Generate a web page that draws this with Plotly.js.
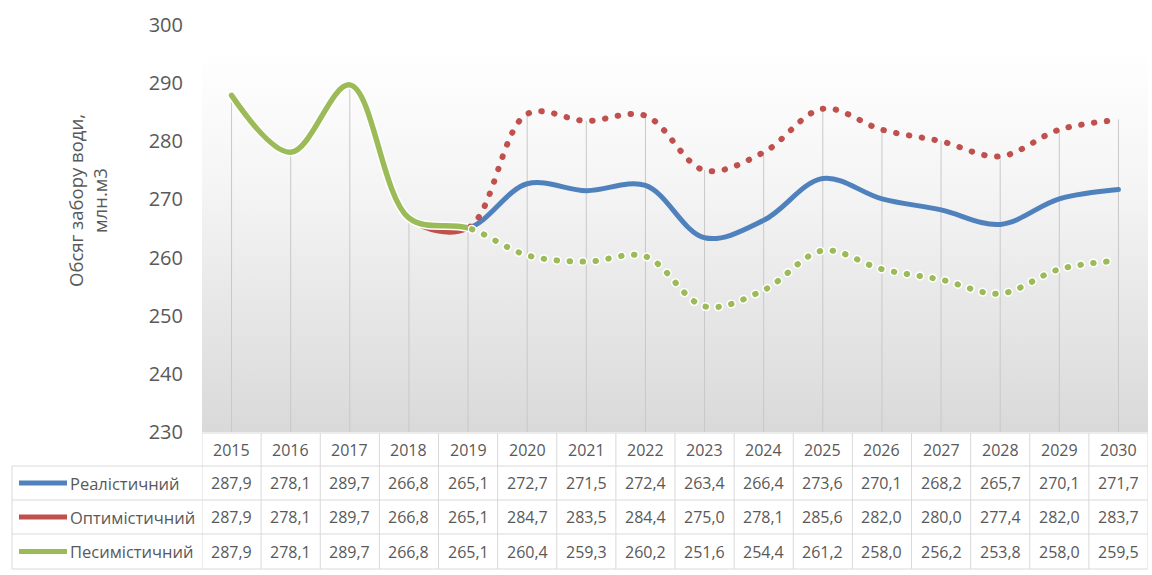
<!DOCTYPE html>
<html>
<head>
<meta charset="utf-8">
<script src="https://cdn.plot.ly/plotly-3.0.1.min.js"></script>
<style>
  html, body { margin: 0; padding: 0; background: #ffffff; }
  #chart { width: 1152px; height: 575px; }
  .scatterlayer path.js-line { stroke-linecap: round; stroke-linejoin: round; }
</style>
</head>
<body>
<div id="chart"></div>
<script>
// ---------- data ----------
const years = [2015, 2016, 2017, 2018, 2019, 2020, 2021, 2022, 2023, 2024, 2025, 2026, 2027, 2028, 2029, 2030];
const realistic   = [287.9, 278.1, 289.7, 266.8, 265.1, 272.7, 271.5, 272.4, 263.4, 266.4, 273.6, 270.1, 268.2, 265.7, 270.1, 271.7];
const optimistic  = [287.9, 278.1, 289.7, 266.8, 265.1, 284.7, 283.5, 284.4, 275.0, 278.1, 285.6, 282.0, 280.0, 277.4, 282.0, 283.7];
const pessimistic = [287.9, 278.1, 289.7, 266.8, 265.1, 260.4, 259.3, 260.2, 251.6, 254.4, 261.2, 258.0, 256.2, 253.8, 258.0, 259.5];
const seriesNames = ['Реалістичний', 'Оптимістичний', 'Песимістичний'];
const lastActualYear = 2019;
const yTicks = [230, 240, 250, 260, 270, 280, 290, 300];
const yTitle = 'Обсяг забору води,<br>млн.м3';

// ---------- style ----------
const colors = ['#4f81bd', '#c0504d', '#9bbb59'];
const textColor = '#595959';
const gridColor = '#d9d9d9';
const fontFam = '"Open Sans", "Noto Sans", "Liberation Sans", sans-serif';
const dotDash = '0.5px,12.5px';

const W = 1152, H = 575;
const L = 202, R = 1148, T = 25, B = 432;
const px = p => (p - L) / (R - L);      // pixel x -> paper x
const py = p => (B - p) / (B - T);      // pixel y -> paper y

const yMin = yTicks[0], yMax = yTicks[yTicks.length - 1];
const xLo = years[0] - 0.5, xHi = years[years.length - 1] + 0.5;
const splitFrac = (lastActualYear - xLo) / (xHi - xLo);

// drop lines from the highest value in each year down to the axis
const dropX = [], dropY = [];
years.forEach((yr, i) => {
  const m = Math.max(realistic[i], optimistic[i], pessimistic[i]);
  dropX.push(yr, yr, null);
  dropY.push(m, yMin, null);
});

const line = (x, y, xaxis, color, width, dash) => ({
  type: 'scatter', mode: 'lines', x: x, y: y, xaxis: xaxis, yaxis: 'y',
  line: { color: color, width: width, shape: 'spline', smoothing: 1, dash: dash || 'solid' },
  hoverinfo: 'skip', showlegend: false
});

const data = [
  { type: 'scatter', mode: 'lines', x: dropX, y: dropY, xaxis: 'x', yaxis: 'y',
    line: { color: '#c8c8c8', width: 1 }, hoverinfo: 'skip', showlegend: false },
  // realistic: solid all the way
  line(years, realistic, 'x', colors[0], 5),
  // actual part (clipped to <= lastActualYear)
  line(years, optimistic, 'x2', colors[1], 5),
  line(years, pessimistic, 'x2', '#ffffff', 8.5),
  line(years, pessimistic, 'x2', colors[2], 5.5),
  // forecast part (clipped to >= lastActualYear)
  line(years, optimistic, 'x3', colors[1], 6, dotDash),
  line(years, pessimistic, 'x3', '#ffffff', 9, dotDash),
  line(years, pessimistic, 'x3', colors[2], 6, dotDash)
];

// ---------- table (data table under the chart) ----------
const shapes = [];
const annotations = [];
const hLine = (y, x0) => shapes.push({ type: 'line', xref: 'paper', yref: 'paper',
  x0: px(x0), x1: px(R), y0: py(y), y1: py(y), line: { color: gridColor, width: 1 } });
const rowEdges = [433, 466, 500, 534, 569];
hLine(rowEdges[0], L);
for (let k = 1; k < rowEdges.length; k++) hLine(rowEdges[k], 12);
shapes.push({ type: 'line', xref: 'paper', yref: 'paper', x0: px(12), x1: px(12),
  y0: py(rowEdges[1]), y1: py(rowEdges[4]), line: { color: gridColor, width: 1 } });
for (let k = 0; k <= years.length; k++) {
  const xb = xLo + k;
  shapes.push({ type: 'line', xref: 'x', yref: 'paper', x0: xb, x1: xb,
    y0: py(rowEdges[0]), y1: py(rowEdges[4]), line: { color: gridColor, width: 1 } });
}
const rowCenter = k => (rowEdges[k] + rowEdges[k + 1]) / 2;
years.forEach(yr => {
  annotations.push({ xref: 'x', yref: 'paper', x: yr, y: py(rowCenter(0)), text: String(yr),
    showarrow: false, xanchor: 'center', yanchor: 'middle', font: { family: fontFam, size: 16, color: textColor } });
});
const seriesVals = [realistic, optimistic, pessimistic];
seriesVals.forEach((vals, s) => {
  const yc = py(rowCenter(s + 1));
  shapes.push({ type: 'line', xref: 'paper', yref: 'paper', x0: px(19), x1: px(67), y0: yc, y1: yc,
    line: { color: colors[s], width: 5 } });
  annotations.push({ xref: 'paper', yref: 'paper', x: px(68), y: yc, text: seriesNames[s],
    showarrow: false, xanchor: 'left', yanchor: 'middle', font: { family: fontFam, size: 16.5, color: textColor } });
  vals.forEach((v, i) => {
    annotations.push({ xref: 'x', yref: 'paper', x: years[i], y: yc, text: v.toFixed(1).replace('.', ','),
      showarrow: false, xanchor: 'center', yanchor: 'middle', font: { family: fontFam, size: 16, color: textColor } });
  });
});
// y axis title
annotations.push({ xref: 'paper', yref: 'paper', x: px(87), y: py(201), text: yTitle, textangle: -90,
  showarrow: false, xanchor: 'center', yanchor: 'middle', font: { family: fontFam, size: 18.5, color: textColor } });

// plot area gradient
const svg = "<svg xmlns='http://www.w3.org/2000/svg' width='100' height='100' preserveAspectRatio='none'>" +
  "<defs><linearGradient id='g' x1='0' y1='0' x2='0' y2='1'>" +
  "<stop offset='0' stop-color='#ffffff'/><stop offset='0.35' stop-color='#f5f5f5'/><stop offset='1' stop-color='#d9d9d9'/></linearGradient></defs>" +
  "<rect width='100' height='100' fill='url(#g)'/></svg>";

const layout = {
  width: W, height: H,
  margin: { l: L, r: W - R, t: T, b: H - B, pad: 0 },
  paper_bgcolor: '#ffffff',
  plot_bgcolor: 'rgba(0,0,0,0)',
  showlegend: false,
  xaxis: { range: [xLo, xHi], domain: [0, 1], anchor: 'y', showgrid: false, zeroline: false,
    showline: false, showticklabels: false, ticks: '', fixedrange: true },
  xaxis2: { range: [xLo, lastActualYear], domain: [0, splitFrac], anchor: 'y', visible: false, fixedrange: true },
  xaxis3: { range: [lastActualYear, xHi], domain: [splitFrac, 1], anchor: 'y', visible: false, fixedrange: true },
  yaxis: { range: [yMin, yMax], tickvals: yTicks, anchor: 'x', showgrid: false, zeroline: false, showline: false,
    ticks: '', ticklabelstandoff: 18, tickfont: { family: fontFam, size: 20, color: textColor }, fixedrange: true },
  images: [{ source: 'data:image/svg+xml;charset=utf-8,' + encodeURIComponent(svg),
    xref: 'paper', yref: 'paper', x: 0, y: py(48), sizex: 1, sizey: py(48), xanchor: 'left', yanchor: 'top',
    sizing: 'stretch', layer: 'below' }],
  shapes: shapes,
  annotations: annotations
};

Plotly.newPlot('chart', data, layout, { displayModeBar: false, staticPlot: true });
</script>
</body>
</html>
